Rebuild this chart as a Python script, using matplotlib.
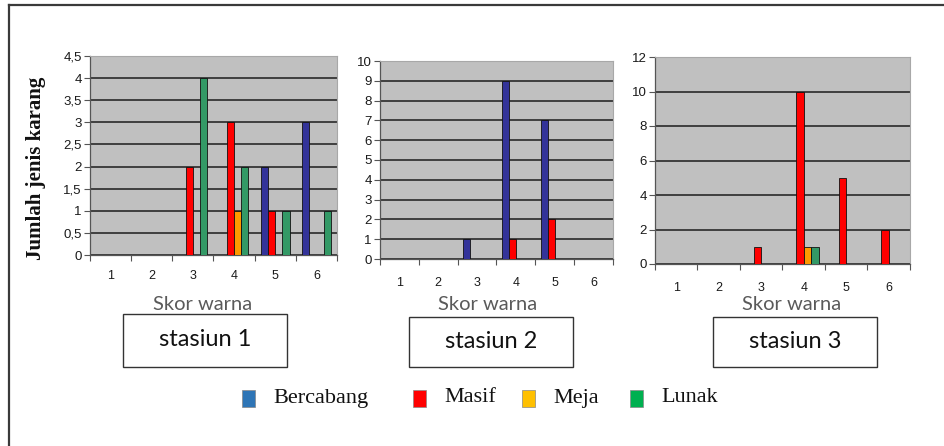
import matplotlib
matplotlib.use("Agg")
import matplotlib.pyplot as plt
from matplotlib.patches import Rectangle
from matplotlib.lines import Line2D
from matplotlib.ticker import FixedLocator, NullFormatter

# ---- data -------------------------------------------------------------
scores = [1, 2, 3, 4, 5, 6]
series = ["Bercabang", "Masif", "Meja", "Lunak"]

st1_bercabang = [0, 0, 0, 0, 2, 3]
st1_masif = [0, 0, 2, 3, 1, 0]
st1_meja = [0, 0, 0, 1, 0, 0]
st1_lunak = [0, 0, 4, 2, 1, 1]

st2_bercabang = [0, 0, 1, 9, 7, 0]
st2_masif = [0, 0, 0, 1, 2, 0]
st2_meja = [0, 0, 0, 0, 0, 0]
st2_lunak = [0, 0, 0, 0, 0, 0]

st3_bercabang = [0, 0, 0, 0, 0, 0]
st3_masif = [0, 0, 1, 10, 5, 2]
st3_meja = [0, 0, 0, 1, 0, 0]
st3_lunak = [0, 0, 0, 1, 0, 0]

station_titles = ["stasiun 1", "stasiun 2", "stasiun 3"]
x_title = "Skor warna"
y_title = "Jumlah jenis karang"

y_ticks_1 = [0, 0.5, 1, 1.5, 2, 2.5, 3, 3.5, 4, 4.5]
y_tick_labels_1 = ["0", "0,5", "1", "1,5", "2", "2,5", "3", "3,5", "4", "4,5"]
y_ticks_2 = list(range(0, 11))
y_ticks_3 = list(range(0, 13, 2))

# ---- styling ----------------------------------------------------------
bar_colors = ["#333399", "#FF0000", "#FF9900", "#339966"]
legend_colors = ["#2E75B6", "#FF0000", "#FFC000", "#00B050"]
plot_bg = "#C0C0C0"
grid_color = "#353535"
tick_font = ["Liberation Sans Narrow", "Liberation Sans"]

W, H = 945, 446
fig = plt.figure(figsize=(W / 100, H / 100), dpi=100)
fig.patch.set_facecolor("white")


def fx(px):
    return px / W


def fy(py):
    return 1 - py / H


def make_axes(left, top, right, bottom):
    return fig.add_axes([fx(left), fy(bottom), fx(right) - fx(left), fy(top) - fy(bottom)])


panels = [
    dict(box=(90, 56, 337, 255), data=[st1_bercabang, st1_masif, st1_meja, st1_lunak],
         ymax=4.5, yticks=y_ticks_1, ylabels=y_tick_labels_1, xpad=11,
         xtitle=(203, 304), title_box=(123, 314, 287, 367)),
    dict(box=(380, 61, 613, 259), data=[st2_bercabang, st2_masif, st2_meja, st2_lunak],
         ymax=10, yticks=y_ticks_2, ylabels=[str(v) for v in y_ticks_2], xpad=13,
         xtitle=(488, 304), title_box=(409, 317, 573, 367)),
    dict(box=(655, 57, 910, 264), data=[st3_bercabang, st3_masif, st3_meja, st3_lunak],
         ymax=12, yticks=y_ticks_3, ylabels=[str(v) for v in y_ticks_3], xpad=13,
         xtitle=(792, 304), title_box=(713, 317, 877, 367)),
]

bar_w = 0.175
for p, title in zip(panels, station_titles):
    ax = make_axes(*p["box"])
    ax.set_facecolor(plot_bg)
    for j, (vals, col) in enumerate(zip(p["data"], bar_colors)):
        xs = [s + (j - 1.5) * bar_w for s in scores]
        ax.bar(xs, vals, width=bar_w, color=col, edgecolor="#111111",
               linewidth=0.6, zorder=3)
    ax.set_xlim(0.5, 6.5)
    ax.set_ylim(0, p["ymax"])
    ax.set_yticks(p["yticks"])
    ax.set_yticklabels(p["ylabels"], family=tick_font, fontsize=9.5, color="#1a1a1a")
    ax.yaxis.grid(True, color=grid_color, linewidth=1.3, zorder=1)
    ax.set_axisbelow(True)

    # category boundaries carry the tick marks, centres carry the labels
    ax.xaxis.set_major_locator(FixedLocator([s - 0.5 for s in scores] + [6.5]))
    ax.xaxis.set_major_formatter(NullFormatter())
    ax.xaxis.set_minor_locator(FixedLocator(scores))
    ax.set_xticklabels([str(s) for s in scores], minor=True,
                       family=tick_font, fontsize=9, color="#1a1a1a")
    ax.tick_params(axis="x", which="major", length=4, width=0.8, color="#555555",
                   direction="out")
    ax.tick_params(axis="x", which="minor", length=0, pad=p["xpad"])
    ax.tick_params(axis="y", length=4, width=0.8, color="#555555", pad=2)

    for side in ("top", "right"):
        ax.spines[side].set_color("#a8a8a8")
        ax.spines[side].set_linewidth(0.8)
    for side in ("left", "bottom"):
        ax.spines[side].set_color("#555555")
        ax.spines[side].set_linewidth(0.9)

    # axis title and station caption box
    tx, ty = p["xtitle"]
    fig.text(fx(tx), fy(ty), x_title, ha="center", va="center",
             family=["Lato", "DejaVu Sans"], fontsize=14.5, color="#5a5a5a")
    l, t, r, b = p["title_box"]
    fig.patches.append(Rectangle((fx(l), fy(b)), fx(r) - fx(l), fy(t) - fy(b),
                                 transform=fig.transFigure, facecolor="white",
                                 edgecolor="#333333", linewidth=1.0))
    fig.text(fx((l + r) / 2), fy((t + b) / 2 - 1), title, ha="center", va="center",
             family=["Lato", "DejaVu Sans"], fontsize=17, color="#111111")

# shared y-axis title
fig.text(fx(36), fy(168), y_title, rotation=90, ha="center", va="center",
         family=["Liberation Serif", "DejaVu Serif"], fontsize=15,
         fontweight="bold", color="#111111")

# legend row
legend_x = [242, 413, 522, 630]
for name, col, lx in zip(series, legend_colors, legend_x):
    fig.patches.append(Rectangle((fx(lx), fy(407)), fx(13), 17 / H,
                                 transform=fig.transFigure, facecolor=col,
                                 edgecolor="#888888", linewidth=0.5))
    fig.text(fx(lx + 31), fy(398), name, ha="left", va="center",
             family=["Liberation Serif", "DejaVu Serif"], fontsize=16,
             color="#111111")

# outer frame (left and top edges)
fig.lines.append(Line2D([fx(9), fx(9)], [fy(5), 0], transform=fig.transFigure,
                        color="#3a3a3a", linewidth=1.6))
fig.lines.append(Line2D([fx(9), 1], [fy(5), fy(5)], transform=fig.transFigure,
                        color="#3a3a3a", linewidth=1.6))

fig.savefig("out.png", dpi=100)
